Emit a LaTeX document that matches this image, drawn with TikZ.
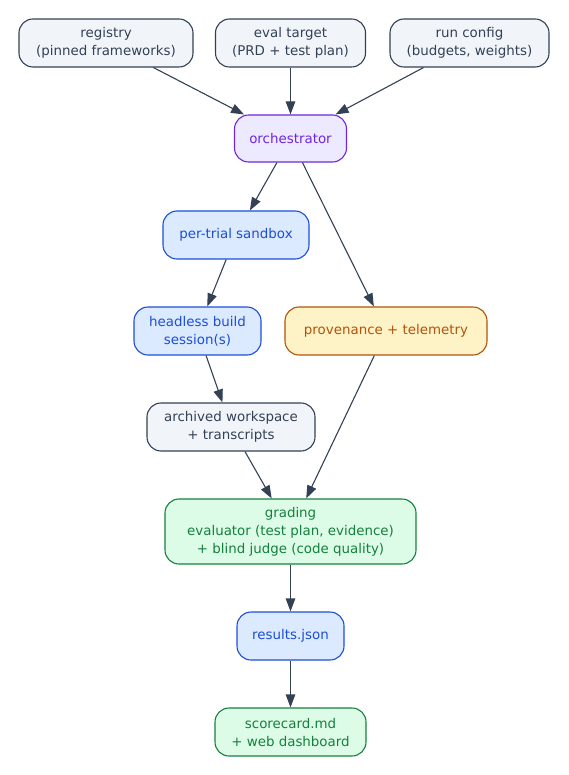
\documentclass[tikz,border=0pt]{standalone}
\usepackage{fontspec}
\setmainfont{DejaVu Sans}
\usetikzlibrary{arrows.meta}
\definecolor{slateE}{HTML}{334155}
\definecolor{slateF}{HTML}{F1F5F9}
\definecolor{purpE}{HTML}{6D28D9}
\definecolor{purpF}{HTML}{EDE9FE}
\definecolor{blueE}{HTML}{1D4ED8}
\definecolor{blueF}{HTML}{DBEAFE}
\definecolor{orngE}{HTML}{B45309}
\definecolor{orngF}{HTML}{FEF3C7}
\definecolor{grnE}{HTML}{15803D}
\definecolor{grnF}{HTML}{DCFCE7}
\tikzset{
  box/.style={draw, rounded corners=14pt, line width=1.1pt, align=center,
    inner sep=0pt, minimum height=48pt,
    font=\fontsize{13.4}{18}\selectfont},
  plainbox/.style={box, draw=slateE, fill=slateF, text=slateE},
  purpbox/.style={box, draw=purpE, fill=purpF, text=purpE},
  bluebox/.style={box, draw=blueE, fill=blueF, text=blueE},
  orngbox/.style={box, draw=orngE, fill=orngF, text=orngE},
  grnbox/.style={box, draw=grnE, fill=grnF, text=grnE},
  conn/.style={draw=slateE, line width=1.1pt, -{Triangle[length=13pt,width=9.5pt]}}
}
\begin{document}
\begin{tikzpicture}[x=1pt,y=-1pt]
\useasboundingbox (0,0) rectangle (569,775);
\node[plainbox, minimum width=174pt] (reg) at (106,43) {registry\\(pinned frameworks)};
\node[plainbox, minimum width=150pt] (eval) at (290.5,43) {eval target\\(PRD + test plan)};
\node[plainbox, minimum width=159pt] (run) at (469.5,43) {run config\\(budgets, weights)};
\node[purpbox, minimum width=112pt, minimum height=47pt] (orch) at (290.5,138.5) {orchestrator};
\node[bluebox, minimum width=146pt] (sand) at (236,235) {per-trial sandbox};
\node[bluebox, minimum width=127pt] (head) at (197.5,331) {headless build\\session(s)};
\node[orngbox, minimum width=202pt] (prov) at (386,331) {provenance + telemetry};
\node[plainbox, minimum width=168pt] (arch) at (231,427) {archived workspace\\+ transcripts};
\node[grnbox, minimum width=251pt, minimum height=65pt] (grad) at (290.5,531.5) {grading\\evaluator (test plan, evidence)\\+ blind judge (code quality)};
\node[bluebox, minimum width=107pt] (res) at (290.5,636) {results.json};
\node[grnbox, minimum width=151pt] (score) at (290.5,732) {scorecard.md\\+ web dashboard};
\draw[conn] (reg) -- (orch);
\draw[conn] (eval) -- (orch);
\draw[conn] (run) -- (orch);
\draw[conn] (orch) -- (sand);
\draw[conn] (orch) -- (prov);
\draw[conn] (sand) -- (head);
\draw[conn] (head) -- (arch);
\draw[conn] (arch) -- (grad);
\draw[conn] (prov) -- (grad);
\draw[conn] (grad) -- (res);
\draw[conn] (res) -- (score);
\end{tikzpicture}
\end{document}
